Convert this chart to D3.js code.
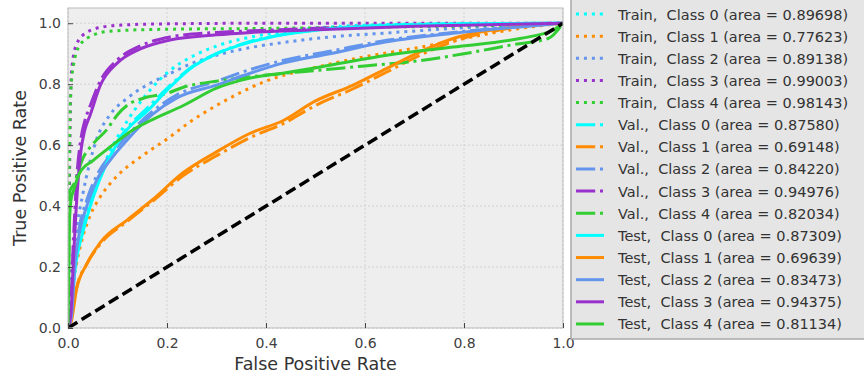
<!DOCTYPE html>
<html>
<head>
<meta charset="utf-8">
<script src="https://cdn.jsdelivr.net/npm/d3@7"></script>
<style>
  body { margin: 0; background: #fff; }
  text { font-family: "DejaVu Sans", sans-serif; }
</style>
</head>
<body>
<svg id="chart" width="864" height="379"></svg>
<script>
// ---- data: [false positive rate, true positive rate] ----
const train0 = [[0,0],[0.004,0.08],[0.014,0.18],[0.024,0.29],[0.038,0.38],[0.058,0.48],[0.085,0.58],[0.12,0.68],[0.16,0.77],[0.206,0.845],[0.25,0.89],[0.3,0.925],[0.37,0.955],[0.45,0.975],[0.55,0.99],[0.7,0.997],[1,1]];
const train1 = [[0,0],[0.005,0.1],[0.017,0.21],[0.03,0.3],[0.045,0.37],[0.065,0.43],[0.1,0.5],[0.15,0.565],[0.2,0.62],[0.25,0.68],[0.3,0.73],[0.4,0.81],[0.5,0.855],[0.6,0.89],[0.7,0.918],[0.8,0.95],[0.9,0.98],[1,1]];
const train2 = [[0,0],[0.005,0.15],[0.015,0.3],[0.03,0.44],[0.058,0.62],[0.085,0.7],[0.119,0.753],[0.159,0.797],[0.2,0.83],[0.25,0.868],[0.3,0.895],[0.368,0.92],[0.45,0.94],[0.529,0.955],[0.644,0.968],[0.778,0.983],[0.913,0.995],[1,1]];
const train3 = [[0,0],[0.002,0.3],[0.004,0.63],[0.007,0.84],[0.017,0.93],[0.038,0.97],[0.071,0.988],[0.12,0.995],[0.2,0.998],[0.4,1],[1,1]];
const train4 = [[0,0],[0.001,0.3],[0.003,0.6],[0.005,0.753],[0.011,0.862],[0.024,0.928],[0.051,0.961],[0.085,0.974],[0.186,0.98],[0.4,0.983],[0.6,0.987],[0.83,0.992],[0.95,0.997],[1,1]];

const val0 = [[0,0],[0.004,0.03],[0.014,0.2],[0.031,0.33],[0.051,0.44],[0.078,0.55],[0.119,0.655],[0.159,0.72],[0.206,0.795],[0.246,0.852],[0.3,0.9],[0.368,0.94],[0.434,0.963],[0.53,0.983],[0.65,0.994],[0.8,0.998],[1,1]];
const val1 = [[0,0],[0.006,0.03],[0.017,0.13],[0.038,0.21],[0.065,0.275],[0.12,0.35],[0.17,0.415],[0.233,0.5],[0.3,0.565],[0.368,0.625],[0.434,0.67],[0.5,0.73],[0.576,0.785],[0.644,0.84],[0.711,0.895],[0.778,0.94],[0.88,0.98],[1,1]];
const val2 = [[0,0],[0.007,0.06],[0.014,0.23],[0.024,0.34],[0.038,0.42],[0.058,0.5],[0.085,0.565],[0.119,0.63],[0.17,0.71],[0.22,0.765],[0.3,0.81],[0.368,0.848],[0.434,0.878],[0.529,0.908],[0.644,0.944],[0.778,0.97],[0.913,0.99],[1,1]];
const val3 = [[0,0],[0.006,0.08],[0.01,0.25],[0.018,0.5],[0.026,0.62],[0.034,0.68],[0.045,0.73],[0.065,0.81],[0.1,0.88],[0.145,0.925],[0.206,0.955],[0.3,0.97],[0.37,0.975],[0.53,0.985],[0.7,0.993],[0.85,0.997],[1,1]];
const val4 = [[0,0],[0.002,0.3],[0.004,0.45],[0.011,0.47],[0.031,0.56],[0.051,0.605],[0.078,0.65],[0.1,0.7],[0.119,0.73],[0.152,0.754],[0.2,0.77],[0.233,0.79],[0.3,0.81],[0.4,0.83],[0.5,0.845],[0.6,0.86],[0.7,0.875],[0.8,0.9],[0.9,0.93],[0.97,0.95],[1,1]];

const test0 = [[0,0],[0.004,0.016],[0.014,0.19],[0.031,0.32],[0.051,0.43],[0.078,0.54],[0.119,0.65],[0.159,0.71],[0.206,0.79],[0.246,0.85],[0.3,0.9],[0.368,0.938],[0.434,0.962],[0.53,0.982],[0.65,0.993],[0.8,0.998],[1,1]];
const test1 = [[0,0],[0.006,0.016],[0.017,0.125],[0.038,0.21],[0.065,0.28],[0.12,0.355],[0.17,0.42],[0.233,0.51],[0.3,0.578],[0.368,0.639],[0.434,0.68],[0.5,0.745],[0.576,0.797],[0.644,0.852],[0.711,0.906],[0.778,0.95],[0.879,0.983],[1,1]];
const test2 = [[0,0],[0.007,0.037],[0.014,0.21],[0.024,0.32],[0.038,0.4],[0.058,0.485],[0.085,0.55],[0.119,0.616],[0.17,0.7],[0.22,0.755],[0.3,0.797],[0.368,0.836],[0.434,0.869],[0.529,0.9],[0.644,0.939],[0.778,0.967],[0.913,0.988],[1,1]];
const test3 = [[0,0],[0.006,0.05],[0.01,0.19],[0.018,0.43],[0.026,0.58],[0.034,0.65],[0.045,0.7],[0.065,0.795],[0.1,0.87],[0.145,0.915],[0.206,0.945],[0.3,0.962],[0.37,0.97],[0.53,0.98],[0.7,0.99],[0.85,0.995],[1,1]];
const test4 = [[0,0],[0.003,0.35],[0.006,0.42],[0.011,0.45],[0.024,0.51],[0.051,0.55],[0.085,0.594],[0.131,0.65],[0.166,0.68],[0.233,0.73],[0.3,0.787],[0.368,0.82],[0.434,0.836],[0.529,0.862],[0.644,0.895],[0.778,0.922],[0.913,0.95],[0.98,0.977],[1,1]];

const chance = [[0,0],[1,1]];

const classIds = [0, 1, 2, 3, 4];
const splitNames = ["Train", "Val.", "Test"];
const trainArea = [0.89698, 0.77623, 0.89138, 0.99003, 0.98143];
const valArea = [0.87580, 0.69148, 0.84220, 0.94976, 0.82034];
const testArea = [0.87309, 0.69639, 0.83473, 0.94375, 0.81134];
const tickValues = [0, 0.2, 0.4, 0.6, 0.8, 1.0];

// ---- styling ----
const classColors = ["#00ffff", "#ff8c00", "#6495ed", "#9932cc", "#32cd32"];
const splitDash = [
  { dash: "3,4.95", width: 3 },          // Train: dotted
  { dash: "19.2,4.8,3,4.8", width: 3 },  // Val: dash-dot
  { dash: null, width: 3 }               // Test: solid
];

const curves = [train0, train1, train2, train3, train4, val0, val1, val2, val3, val4, test0, test1, test2, test3, test4];
const areas = [trainArea, valArea, testArea];

const series = [];
splitNames.forEach((name, s) => {
  classIds.forEach((c, k) => {
    series.push({
      // two spaces after the comma, as in the original legend
      label: `${name},\u00a0 Class ${c} (area = ${areas[s][k].toFixed(5)})`,
      points: curves[s * 5 + k],
      color: classColors[k],
      dash: splitDash[s].dash,
      width: splitDash[s].width
    });
  });
});

const margin = { left: 68, top: 8, right: 301, bottom: 51 };
const W = 864, H = 379;
const pw = W - margin.left - margin.right;   // 495
const ph = H - margin.top - margin.bottom;   // 320

const svg = d3.select("#chart");

const x = d3.scaleLinear().domain([0, 1]).range([0, pw]);
const y = d3.scaleLinear().domain([0, 1.05]).range([ph, 0]);

const plot = svg.append("g")
  .attr("transform", `translate(${margin.left},${margin.top})`);

plot.append("rect")
  .attr("width", pw)
  .attr("height", ph)
  .attr("fill", "#eeeeee");

// grid
plot.append("g")
  .selectAll("line")
  .data(tickValues)
  .join("line")
  .attr("x1", d => x(d)).attr("x2", d => x(d))
  .attr("y1", 0).attr("y2", ph)
  .attr("stroke", "#d2d2d2").attr("stroke-width", 1)
  .attr("stroke-dasharray", "2,2");

plot.append("g")
  .selectAll("line")
  .data(tickValues)
  .join("line")
  .attr("x1", 0).attr("x2", pw)
  .attr("y1", d => y(d)).attr("y2", d => y(d))
  .attr("stroke", "#d2d2d2").attr("stroke-width", 1)
  .attr("stroke-dasharray", "2,2");

svg.append("defs").append("clipPath")
  .attr("id", "plot-clip")
  .append("rect")
  .attr("width", pw)
  .attr("height", ph);

const line = d3.line()
  .x(d => x(d[0]))
  .y(d => y(d[1]))
  .curve(d3.curveMonotoneX);

const lines = plot.append("g").attr("clip-path", "url(#plot-clip)");

lines.selectAll("path.roc")
  .data(series)
  .join("path")
  .attr("class", "roc")
  .attr("d", d => line(d.points))
  .attr("fill", "none")
  .attr("stroke", d => d.color)
  .attr("stroke-width", d => d.width)
  .attr("stroke-dasharray", d => d.dash);

// chance line drawn last, on top
lines.append("path")
  .attr("d", d3.line().x(d => x(d[0])).y(d => y(d[1]))(chance))
  .attr("fill", "none")
  .attr("stroke", "#000")
  .attr("stroke-width", 3.5)
  .attr("stroke-dasharray", "11,5");

// frame
plot.append("rect")
  .attr("width", pw)
  .attr("height", ph)
  .attr("fill", "none")
  .attr("stroke", "#bcbcbc")
  .attr("stroke-width", 1);

// axes
const xAxis = plot.append("g")
  .attr("transform", `translate(0,${ph})`)
  .call(d3.axisBottom(x).tickValues(tickValues).tickFormat(d3.format(".1f")).tickSizeInner(-5).tickSizeOuter(0).tickPadding(10));

const yAxis = plot.append("g")
  .call(d3.axisLeft(y).tickValues(tickValues).tickFormat(d3.format(".1f")).tickSizeInner(-5).tickSizeOuter(0).tickPadding(7));

[xAxis, yAxis].forEach(a => {
  a.select(".domain").remove();
  a.selectAll(".tick line").attr("stroke", "#444").attr("stroke-width", 1);
  a.selectAll(".tick text")
    .attr("fill", "#404040")
    .style("font-size", "14px")
    .style("font-family", "DejaVu Sans");
});

svg.append("text")
  .attr("x", margin.left + pw / 2)
  .attr("y", 370)
  .attr("text-anchor", "middle")
  .attr("fill", "#333")
  .style("font-size", "17.5px")
  .text("False Positive Rate");

svg.append("text")
  .attr("transform", `translate(26,${margin.top + ph / 2}) rotate(-90)`)
  .attr("text-anchor", "middle")
  .attr("fill", "#333")
  .style("font-size", "17.5px")
  .text("True Positive Rate");

// legend (sits over the right edge of the plot)
const legend = svg.append("g").attr("class", "legend");

legend.append("rect")
  .attr("x", 571)
  .attr("y", -3)
  .attr("width", 300)
  .attr("height", 342)
  .attr("fill", "#e5e5e5")
  .attr("stroke", "#a8a8a8")
  .attr("stroke-width", 1.5);

const rowGap = 22.14;
const item = legend.selectAll("g.legend-item")
  .data(series)
  .join("g")
  .attr("class", "legend-item")
  .attr("transform", (d, i) => `translate(0,${14 + i * rowGap})`);

item.append("line")
  .attr("x1", 576).attr("x2", 604)
  .attr("y1", 0).attr("y2", 0)
  .attr("stroke", d => d.color)
  .attr("stroke-width", d => d.width)
  .attr("stroke-dasharray", d => d.dash);

item.append("text")
  .attr("x", 618)
  .attr("y", 5.5)
  .attr("fill", "#333")
  .style("font-size", "14.5px")
  .text(d => d.label);
</script>
</body>
</html>
